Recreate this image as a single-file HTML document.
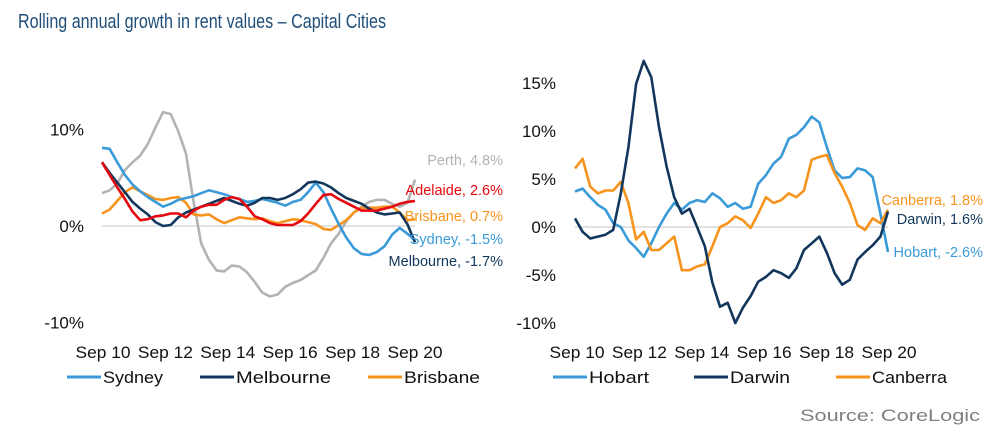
<!DOCTYPE html>
<html><head><meta charset="utf-8">
<style>
html,body{margin:0;padding:0;background:#fff;}
svg{display:block;font-family:"Liberation Sans",sans-serif;}
</style></head>
<body>
<svg id="chart" width="995" height="438" viewBox="0 0 995 438" xmlns="http://www.w3.org/2000/svg">
<text x="18" y="28" font-size="20" fill="#1f4e79" textLength="368" lengthAdjust="spacingAndGlyphs">Rolling annual growth in rent values – Capital Cities</text>
<g id="left"></g>
<g id="right"></g>
<text x="980" y="421" font-size="17" fill="#7f7f7f" text-anchor="end" textLength="180" lengthAdjust="spacingAndGlyphs">Source: CoreLogic</text>
</svg>
<script>
// Quarterly values, Sep 2010 .. Dec 2020
const xLabels = ["Sep 10","Sep 12","Sep 14","Sep 16","Sep 18","Sep 20"];
const leftTicks = [10,0,-10];
const rightTicks = [15,10,5,0,-5,-10];
const sydney = [8.1,8.0,6.6,5.3,4.3,3.6,3.0,2.5,2.0,2.3,2.7,2.9,3.1,3.4,3.7,3.5,3.3,3.0,2.8,2.5,2.6,2.8,2.6,2.4,2.1,2.5,2.7,3.5,4.5,3.5,1.8,0.2,-1.2,-2.3,-2.9,-3.0,-2.7,-2.1,-0.9,-0.2,-0.8,-1.5];
const melbourne = [6.6,5.5,4.5,3.5,2.5,1.8,1.2,0.4,0.0,0.1,0.9,1.4,1.7,2.0,2.3,2.6,2.9,2.6,2.3,2.1,2.4,2.9,2.9,2.7,2.9,3.3,3.8,4.5,4.6,4.4,4.0,3.4,2.9,2.6,2.3,1.8,1.4,1.2,1.3,1.4,0.2,-1.7];
const brisbane = [1.3,1.7,2.6,3.5,4.0,3.6,3.2,2.8,2.7,2.9,3.0,2.4,1.2,1.1,1.2,0.7,0.3,0.6,0.9,0.8,0.7,0.8,0.5,0.3,0.5,0.7,0.6,0.4,0.2,-0.3,-0.4,0.1,0.6,1.4,1.9,1.9,1.9,2.0,2.0,1.4,0.6,0.7];
const adelaide = [6.6,5.3,4.0,2.8,1.5,0.6,0.7,1.0,1.1,1.3,1.3,0.9,1.6,2.0,2.2,2.2,2.7,3.0,2.8,2.0,1.0,0.7,0.3,0.1,0.1,0.1,0.5,1.3,2.3,3.2,3.3,2.8,2.4,2.0,1.6,1.6,1.6,1.8,2.0,2.3,2.5,2.6];
const perth = [3.4,3.7,4.4,5.8,6.6,7.3,8.5,10.2,11.8,11.6,9.8,7.5,2.5,-1.8,-3.5,-4.6,-4.7,-4.1,-4.2,-4.8,-5.8,-6.9,-7.3,-7.1,-6.3,-5.9,-5.6,-5.1,-4.6,-3.3,-1.8,-0.8,0.5,1.4,2.0,2.5,2.7,2.7,2.3,2.0,2.4,4.8];
const hobart = [3.7,4.0,3.1,2.3,1.8,0.4,0.0,-1.4,-2.2,-3.1,-1.7,0.0,1.4,2.5,1.8,2.5,2.8,2.6,3.5,3.0,2.1,2.5,1.9,2.1,4.5,5.4,6.6,7.3,9.2,9.6,10.4,11.5,10.9,8.3,5.9,5.1,5.2,6.1,5.9,5.2,1.4,-2.6];
const darwin = [0.9,-0.5,-1.2,-1.0,-0.8,-0.3,3.5,8.3,14.9,17.3,15.6,10.4,6.3,3.1,1.4,1.9,0.0,-2.0,-5.8,-8.3,-7.9,-10.0,-8.4,-7.2,-5.7,-5.2,-4.5,-4.8,-5.3,-4.3,-2.4,-1.7,-1.0,-2.7,-4.8,-6.0,-5.5,-3.4,-2.6,-1.9,-1.0,1.6];
const canberra = [6.1,7.1,4.2,3.5,3.8,3.8,4.7,2.5,-1.3,-0.5,-2.4,-2.4,-1.7,-1.0,-4.5,-4.5,-4.1,-3.9,-2.0,0.0,0.4,1.1,0.7,-0.1,1.4,3.1,2.5,2.8,3.5,3.1,3.8,7.0,7.3,7.5,5.6,4.2,2.5,0.2,-0.3,0.9,0.4,1.8];
const leftEnd = ["Perth, 4.8%","Adelaide, 2.6%","Brisbane, 0.7%","Sydney, -1.5%","Melbourne, -1.7%"];
const rightEnd = ["Canberra, 1.8%","Darwin, 1.6%","Hobart, -2.6%"];

const C = {sky:"#3b9bd8", navy:"#13375c", orange:"#f7941d", grey:"#b3b3b3", red:"#e5080f"};
const NS = "http://www.w3.org/2000/svg";
function mk(tag, attrs, parent){const e=document.createElementNS(NS,tag);for(const k in attrs)e.setAttribute(k,attrs[k]);parent.appendChild(e);return e;}

function panel(g, o){
  const xS = i => o.x0 + i*(o.x1-o.x0)/41;
  const yS = v => o.zeroY - v*o.ppu;
  const zl = mk("line",{x1:o.x0,x2:o.x1,y1:yS(0),y2:yS(0),stroke:"#d9d9d9","stroke-width":1.5},g);
  
  
  o.ticks.forEach(t=>{
    const tx = mk("text",{x:o.tickX,y:yS(t)+6,"font-size":17,fill:"#111","text-anchor":"end"},g);
    tx.textContent = t+"%";
    
    
  });
  xLabels.forEach((l,i)=>{
    const tx = mk("text",{x:o.lab0+i*62.4,y:358,"font-size":17,fill:"#111","text-anchor":"middle",textLength:55,lengthAdjust:"spacingAndGlyphs"},g);
    tx.textContent = l;
    
    
  });
  o.series.forEach(s=>{
    const d = s.data.map((v,i)=>(i?"L":"M")+xS(i).toFixed(1)+","+yS(v).toFixed(1)).join(" ");
    const p = mk("path",{d:d,fill:"none",stroke:s.color,"stroke-width":2.6,"stroke-linejoin":"round"},g);
    
    
  });
  o.ends.forEach((t,i)=>{
    const tx = mk("text",{x:o.endX,y:o.endY[i],"font-size":14.5,fill:o.endC[i],"text-anchor":"end"},g);
    tx.textContent = t;
    
    
  });
  o.legend.forEach(L=>{
    const lg = mk("g",{},g);
    
    
    mk("line",{x1:L.x,x2:L.x+34,y1:377,y2:377,stroke:L.color,"stroke-width":3},lg);
    const tx = mk("text",{x:L.x+36,y:383,"font-size":17,fill:"#111",textLength:L.w,lengthAdjust:"spacingAndGlyphs"},lg);
    tx.textContent = L.label;
  });
}

panel(document.getElementById("left"),{
  id:"left", x0:102, x1:415, zeroY:226, ppu:9.65, ticks:leftTicks, tickX:84, lab0:103,
  series:[{name:"perth",data:perth,color:C.grey},{name:"brisbane",data:brisbane,color:C.orange},{name:"sydney",data:sydney,color:C.sky},{name:"melbourne",data:melbourne,color:C.navy},{name:"adelaide",data:adelaide,color:C.red}],
  ends:leftEnd, endX:503, endY:[165,195,221,244,266], endC:[C.grey,C.red,C.orange,C.sky,C.navy],
  legend:[{name:"sydney",label:"Sydney",x:67,w:60,color:C.sky},{name:"melbourne",label:"Melbourne",x:200,w:95,color:C.navy},{name:"brisbane",label:"Brisbane",x:368,w:76,color:C.orange}]
});
panel(document.getElementById("right"),{
  id:"right", x0:575, x1:888, zeroY:227, ppu:9.6, ticks:rightTicks, tickX:556, lab0:577,
  series:[{name:"hobart",data:hobart,color:C.sky},{name:"canberra",data:canberra,color:C.orange},{name:"darwin",data:darwin,color:C.navy}],
  ends:rightEnd, endX:983, endY:[205,224,257], endC:[C.orange,C.navy,C.sky],
  legend:[{name:"hobart",label:"Hobart",x:553,w:60,color:C.sky},{name:"darwin",label:"Darwin",x:694,w:60,color:C.navy},{name:"canberra",label:"Canberra",x:836,w:75,color:C.orange}]
});
</script>
</body></html>
